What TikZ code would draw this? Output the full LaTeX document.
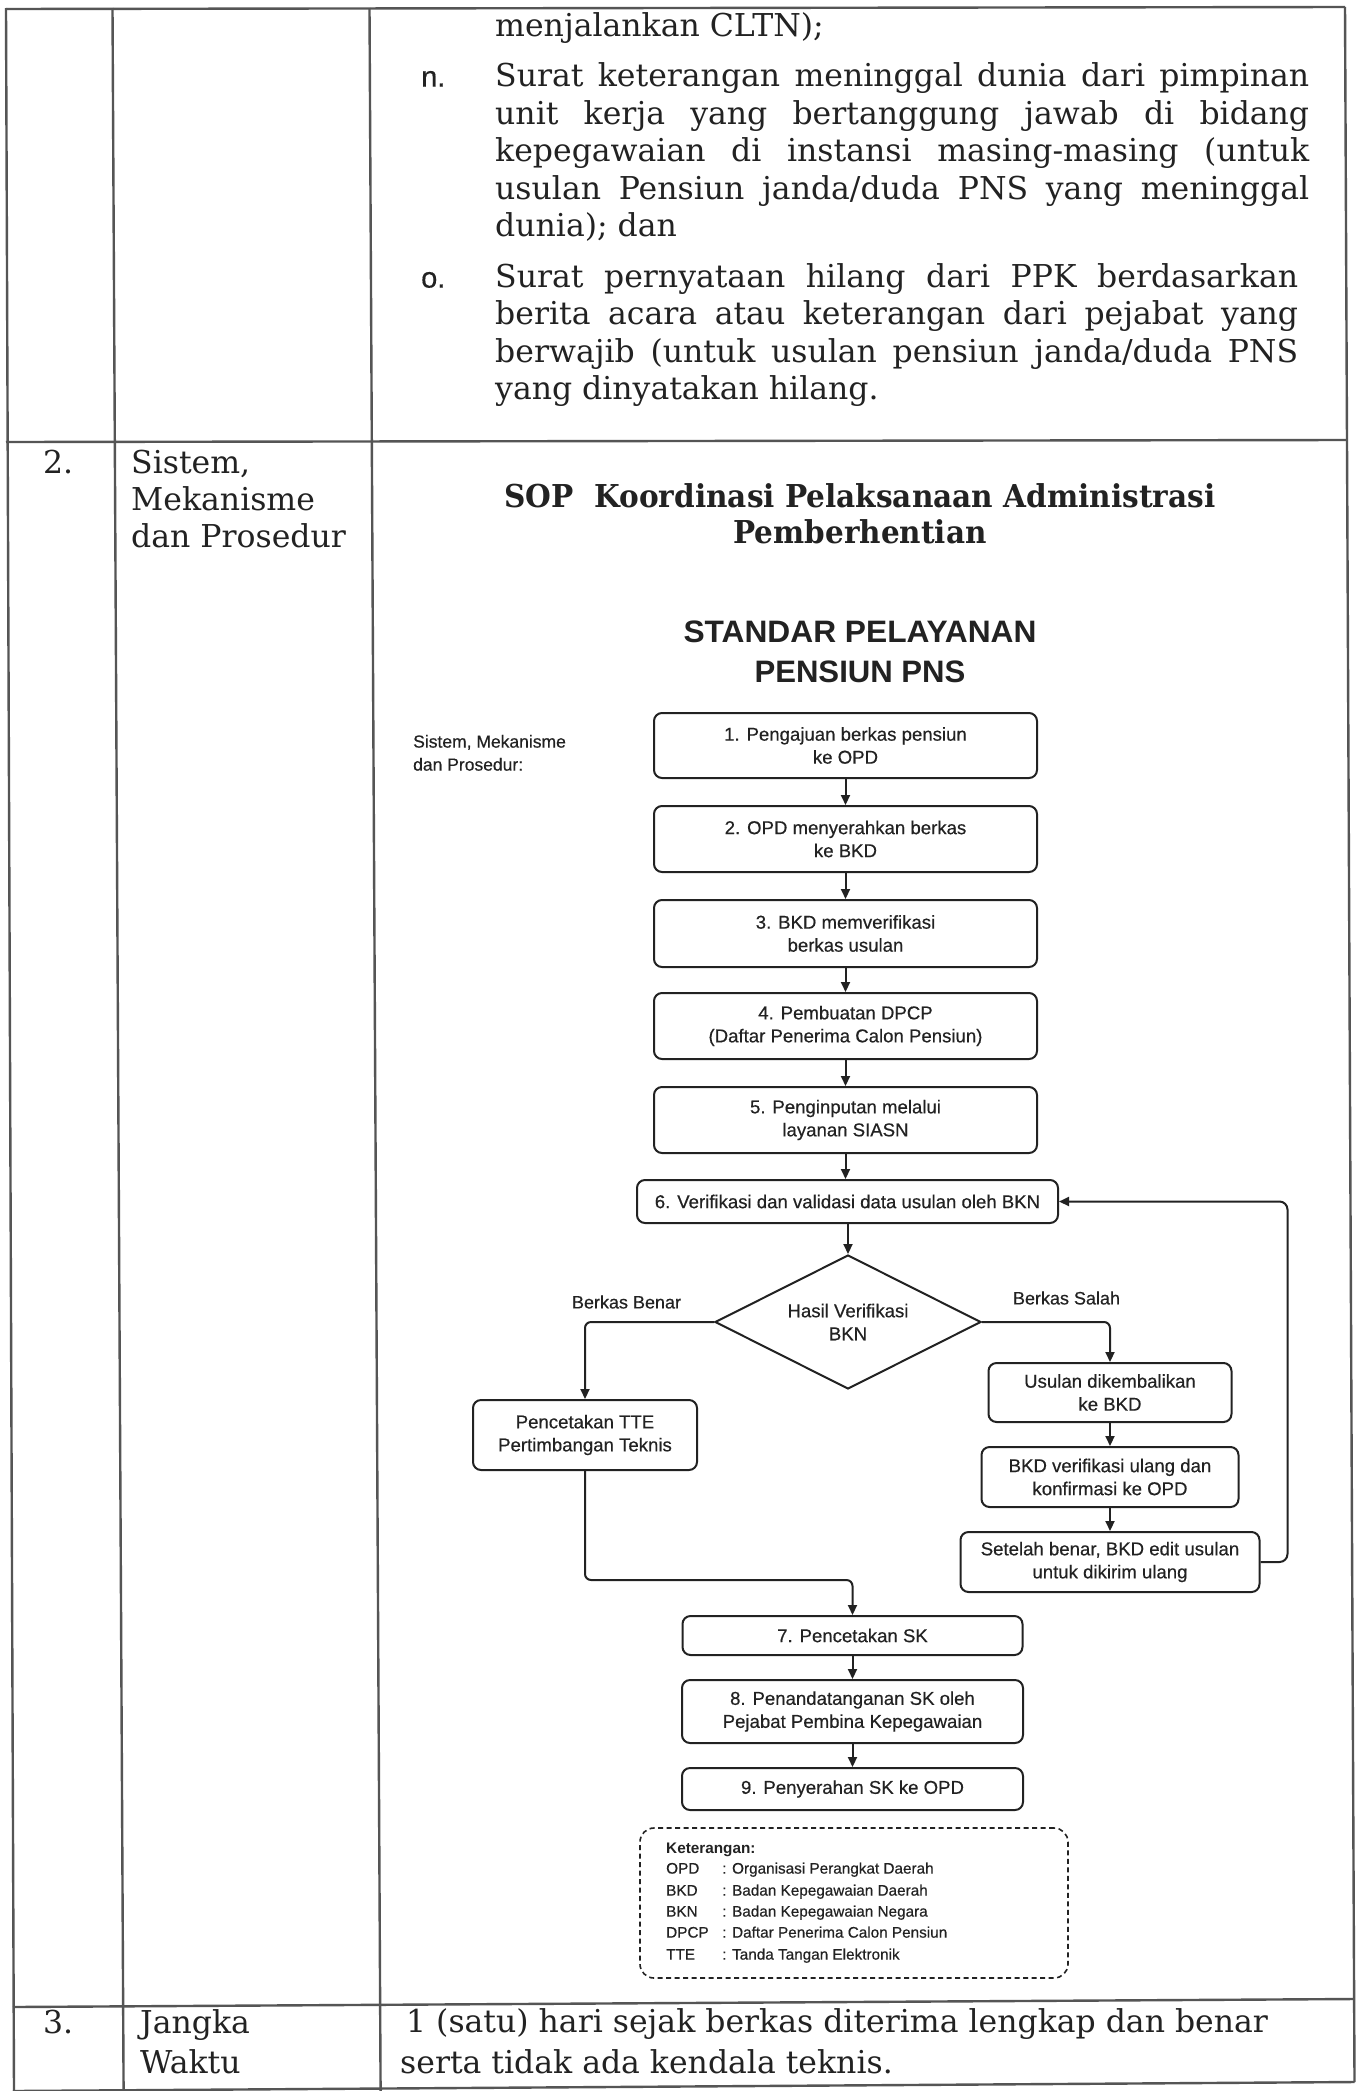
\documentclass[tikz,border=0pt]{standalone}
\usepackage{fontspec}
\usepackage{graphicx}
\setmainfont{DejaVu Serif}
\newfontfamily\flowfont{Liberation Sans}[FakeBold=0.45]
\newfontfamily\flowbold{Liberation Sans Bold}
\usetikzlibrary{shapes.geometric,arrows.meta}
\definecolor{ink}{HTML}{222222}
\definecolor{rulec}{HTML}{555555}
\newcommand\fitw[2]{\resizebox{#1}{\height}{#2}}
\begin{document}
\begin{tikzpicture}[x=1pt,y=-1pt,
  body/.style={font=\fontsize{31.5pt}{42pt}\selectfont, text=ink, inner sep=0pt},
  lbl/.style={body, anchor=mid west},
  marker/.style={font=\flowfont\fontsize{29pt}{36pt}\selectfont, text=ink, inner sep=0pt, anchor=mid west},
  flowbox/.style={draw=ink, line width=2pt, rounded corners=8pt, font=\flowfont\fontsize{18.6pt}{23pt}\selectfont, text=ink, align=center, inner sep=0pt},
  flowtxt/.style={font=\flowfont\fontsize{18pt}{23pt}\selectfont, text=ink, inner sep=0pt},
  legtxt/.style={font=\flowfont\fontsize{15.3pt}{19pt}\selectfont, text=ink, inner sep=0pt, anchor=mid west},
  conn/.style={draw=ink, line width=2pt, rounded corners=6pt, -{Triangle[length=10pt,width=9pt]}},
  tabline/.style={draw=rulec, line width=2.4pt}
]
\useasboundingbox (0,0) rectangle (1356,2091);
\fill[white] (0,0) rectangle (1356,2091);
% ---------- table ----------
\draw[tabline] (6,9) -- (1345,7);
\draw[tabline] (6,442) -- (1347,440);
\draw[tabline] (13,2007) -- (1354,1999);
\draw[tabline] (13,2091) -- (1354.5,2082);
\draw[tabline] (6,8) -- (14,2091);
\draw[tabline] (112.5,8) -- (123.6,2091);
\draw[tabline] (369.5,8) -- (380.6,2091);
\draw[tabline] (1345,7) -- (1354.5,2082);
% ---------- row 1 text ----------
\node[lbl] (r1a) at (495,34) {menjalankan CLTN);};
\node[marker] (mn) at (421,84) {n.};
\node[lbl] (r1b) at (495,84) {\makebox[814pt][s]{Surat keterangan meninggal dunia dari pimpinan}};
\node[lbl] (r1c) at (495,121.5) {\makebox[814pt][s]{unit kerja yang bertanggung jawab di bidang}};
\node[lbl] (r1d) at (495,159) {\makebox[814pt][s]{kepegawaian di instansi masing-masing (untuk}};
\node[lbl] (r1e) at (495,196.5) {\makebox[814pt][s]{usulan Pensiun janda/duda PNS yang meninggal}};
\node[lbl] (r1f) at (495,234) {dunia); dan};
\node[marker] (mo) at (421,285) {o.};
\node[lbl] (r1g) at (495,285) {\makebox[803pt][s]{Surat pernyataan hilang dari PPK berdasarkan}};
\node[lbl] (r1h) at (495,322) {\makebox[803pt][s]{berita acara atau keterangan dari pejabat yang}};
\node[lbl] (r1i) at (495,359.5) {\makebox[803pt][s]{berwajib (untuk usulan pensiun janda/duda PNS}};
\node[lbl] (r1j) at (495,397) {yang dinyatakan hilang.};
% ---------- row 2 left ----------
\node[lbl] (n2) at (43,471) {2.};
\node[lbl] (s2a) at (131,471) {Sistem,};
\node[lbl] (s2b) at (131,508) {Mekanisme};
\node[lbl] (s2c) at (131,545) {dan Prosedur};
% ---------- titles ----------
\node[body, font=\bfseries\fontsize{31.5pt}{42pt}\selectfont] (t1) at (860,496) {\fitw{711pt}{SOP\ \ Koordinasi Pelaksanaan Administrasi}};
\node[body, font=\bfseries\fontsize{31.5pt}{42pt}\selectfont] (t2) at (860,532) {\fitw{253pt}{Pemberhentian}};
\node[body, font=\flowbold\fontsize{31pt}{38pt}\selectfont] (t3) at (860,632) {\fitw{353pt}{STANDAR PELAYANAN}};
\node[body, font=\flowbold\fontsize{31pt}{38pt}\selectfont] (t4) at (860,672) {\fitw{211pt}{PENSIUN PNS}};
\node[flowtxt, font=\flowfont\fontsize{17.5pt}{23pt}\selectfont, anchor=mid west] (sm1) at (413,745) {Sistem, Mekanisme};
\node[flowtxt, font=\flowfont\fontsize{17.5pt}{23pt}\selectfont, anchor=mid west] (sm2) at (413,768) {dan Prosedur:};
% ---------- flowchart ----------
\node[flowbox, minimum width=383pt, minimum height=65pt] (b1) at (845.5,745.5) {1. Pengajuan berkas pensiun\\ke OPD};
\node[flowbox, minimum width=383pt, minimum height=66pt] (b2) at (845.5,839) {2. OPD menyerahkan berkas\\ke BKD};
\node[flowbox, minimum width=383pt, minimum height=67pt] (b3) at (845.5,933.5) {3. BKD memverifikasi\\berkas usulan};
\node[flowbox, minimum width=383pt, minimum height=66pt] (b4) at (845.5,1026) {4. Pembuatan DPCP\\(Daftar Penerima Calon Pensiun)};
\node[flowbox, minimum width=383pt, minimum height=66pt] (b5) at (845.5,1120) {5. Penginputan melalui\\layanan SIASN};
\node[flowbox, minimum width=421pt, minimum height=43pt] (b6) at (847.5,1201.5) {6. Verifikasi dan validasi data usulan oleh BKN};
\node[flowbox, rounded corners=0pt, shape=diamond, aspect=2, minimum width=266pt, minimum height=134pt] (dia) at (848,1322) {Hasil Verifikasi\\BKN};
\node[flowbox, minimum width=224pt, minimum height=70pt] (tte) at (585,1435) {Pencetakan TTE\\Pertimbangan Teknis};
\node[flowbox, minimum width=243pt, minimum height=59pt] (u) at (1110,1392.5) {Usulan dikembalikan\\ke BKD};
\node[flowbox, minimum width=257pt, minimum height=60pt] (v) at (1110,1477) {BKD verifikasi ulang dan\\konfirmasi ke OPD};
\node[flowbox, minimum width=299pt, minimum height=60pt] (w) at (1110,1562) {Setelah benar, BKD edit usulan\\untuk dikirim ulang};
\node[flowbox, minimum width=340pt, minimum height=39pt] (b7) at (852.5,1635.5) {7. Pencetakan SK};
\node[flowbox, minimum width=341pt, minimum height=63pt] (b8) at (852.5,1711.5) {8. Penandatanganan SK oleh\\Pejabat Pembina Kepegawaian};
\node[flowbox, minimum width=341pt, minimum height=42pt] (b9) at (852.5,1789) {9. Penyerahan SK ke OPD};
\node[flowtxt] (lb) at (626.5,1302) {Berkas Benar};
\node[flowtxt] (ls) at (1066.5,1298) {Berkas Salah};
% connectors
\draw[conn] (b1) -- (b2);
\draw[conn] (b2) -- (b3);
\draw[conn] (b3) -- (b4);
\draw[conn] (b4) -- (b5);
\draw[conn] (b5.south) -- (b5.south |- b6.north);
\draw[conn] (dia.north |- b6.south) -- (dia.north);
\draw[conn] (dia.west) -| (tte.north);
\draw[conn] (dia.east) -| (u.north);
\draw[conn] (u) -- (v);
\draw[conn] (v) -- (w);
\draw[conn, rounded corners=8pt] (w.east) -- ++(27,0) |- (b6.east);
\draw[conn] (tte.south) -- ++(0,109) -| (b7.north);
\draw[conn] (b7.south) -- (b7.south |- b8.north);
\draw[conn] (b8.south) -- (b8.south |- b9.north);
% legend
\node[draw=ink, line width=1.6pt, dash pattern=on 5pt off 3.5pt, rounded corners=14pt, minimum width=428pt, minimum height=150pt, inner sep=0pt] (leg) at (854,1903) {};
\node[legtxt, font=\flowbold\fontsize{15.3pt}{19pt}\selectfont] (k0) at (666,1851) {Keterangan:};
\node[legtxt] (k1a) at (666,1871) {OPD};
\node[legtxt] (k1b) at (722,1871) {: Organisasi Perangkat Daerah};
\node[legtxt] (k2a) at (666,1893) {BKD};
\node[legtxt] (k2b) at (722,1893) {: Badan Kepegawaian Daerah};
\node[legtxt] (k3a) at (666,1914) {BKN};
\node[legtxt] (k3b) at (722,1914) {: Badan Kepegawaian Negara};
\node[legtxt] (k4a) at (666,1935) {DPCP};
\node[legtxt] (k4b) at (722,1935) {: Daftar Penerima Calon Pensiun};
\node[legtxt] (k5a) at (666,1957) {TTE};
\node[legtxt] (k5b) at (722,1957) {: Tanda Tangan Elektronik};
% ---------- row 3 ----------
\node[lbl] (n3) at (43,2031) {3.};
\node[lbl] (j1) at (140,2031) {Jangka};
\node[lbl] (j2) at (140,2071) {Waktu};
\node[lbl] (r3a) at (406,2030) {1 (satu) hari sejak berkas diterima lengkap dan benar};
\node[lbl] (r3b) at (400,2071) {serta tidak ada kendala teknis.};
\end{tikzpicture}
\end{document}
